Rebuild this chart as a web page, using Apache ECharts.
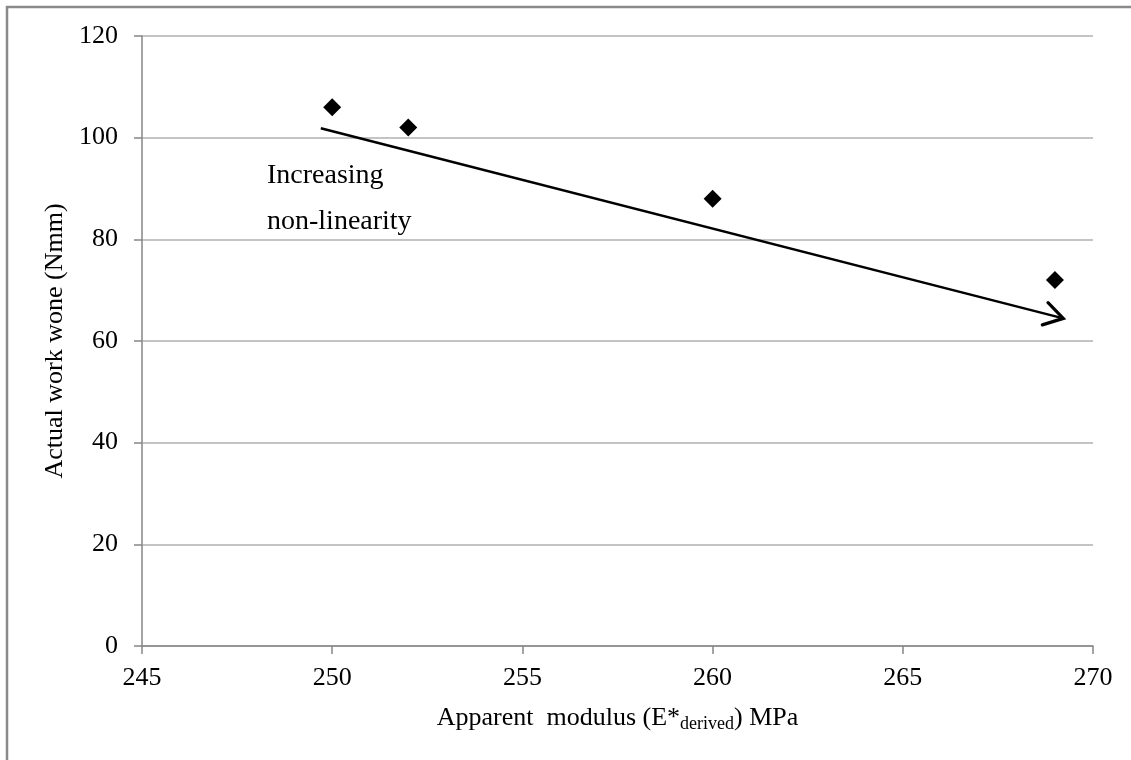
<!DOCTYPE html>
<html>
<head>
<meta charset="utf-8">
<script src="https://cdn.jsdelivr.net/npm/echarts@6/dist/echarts.min.js"></script>
<style>
html,body{margin:0;padding:0;background:#fff;}
#main{width:1131px;height:760px;}
</style>
</head>
<body>
<div id="main"></div>
<script>
// Data
var modulus = [250, 252, 260, 269];
var work = [106, 102, 88, 72];
var arrowStart = [249.7, 101.85];
var arrowEnd = [269.22, 64.45];
var xTicks = [245, 250, 255, 260, 265, 270];
var yTicks = [0, 20, 40, 60, 80, 100, 120];
var annotationLines = ['Increasing', 'non-linearity'];

var FONT = 'Liberation Serif, Times New Roman, serif';
var chart = echarts.init(document.getElementById('main'), null, {renderer: 'canvas'});

var points = modulus.map(function (m, i) { return [m, work[i]]; });

var option = {
  backgroundColor: '#ffffff',
  animation: false,
  grid: {left: 142, right: 38, top: 36, bottom: 114, containLabel: false},
  xAxis: {
    type: 'value',
    min: xTicks[0],
    max: xTicks[xTicks.length - 1],
    interval: xTicks[1] - xTicks[0],
    name: 'Apparent  modulus {t|(E*}{sub|derived}{t|) MPa}',
    nameLocation: 'middle',
    nameGap: 57,
    nameTextStyle: {
      fontFamily: FONT, fontSize: 26, color: '#000',
      rich: {
        t: {fontFamily: FONT, fontSize: 26, color: '#000', lineHeight: 30},
        sub: {fontFamily: FONT, fontSize: 18, color: '#000', lineHeight: 17, verticalAlign: 'bottom'}
      }
    },
    axisLine: {show: true, onZero: false, lineStyle: {color: '#868686', width: 1.5}},
    axisTick: {show: true, inside: false, length: 8, lineStyle: {color: '#868686', width: 1.5}},
    axisLabel: {fontFamily: FONT, fontSize: 26, color: '#000', margin: 19},
    splitLine: {show: false}
  },
  yAxis: {
    type: 'value',
    min: yTicks[0],
    max: yTicks[yTicks.length - 1],
    interval: yTicks[1] - yTicks[0],
    name: 'Actual work wone (Nmm)',
    nameLocation: 'middle',
    nameGap: 69,
    nameTextStyle: {fontFamily: FONT, fontSize: 26, color: '#000'},
    axisLine: {show: true, lineStyle: {color: '#868686', width: 1.5}},
    axisTick: {show: true, inside: false, length: 8, lineStyle: {color: '#868686', width: 1.5}},
    axisLabel: {fontFamily: FONT, fontSize: 26, color: '#000', margin: 24},
    splitLine: {show: true, lineStyle: {color: '#b0b0b0', width: 1.5}}
  },
  series: [
    {
      type: 'custom',
      z: 3,
      silent: true,
      data: [[arrowStart[0], arrowStart[1], arrowEnd[0], arrowEnd[1]]],
      encode: {x: [0, 2], y: [1, 3]},
      renderItem: function (params, api) {
        var p0 = api.coord([api.value(0), api.value(1)]);
        var p1 = api.coord([api.value(2), api.value(3)]);
        var ang = Math.atan2(p1[1] - p0[1], p1[0] - p0[0]);
        var L = 22, spread = 0.55;
        var w1 = [p1[0] - L * Math.cos(ang - spread), p1[1] - L * Math.sin(ang - spread)];
        var w2 = [p1[0] - L * Math.cos(ang + spread), p1[1] - L * Math.sin(ang + spread)];
        return {
          type: 'group',
          children: [
            {type: 'line', shape: {x1: p0[0], y1: p0[1], x2: p1[0], y2: p1[1]},
             style: {stroke: '#000', lineWidth: 2.5}},
            {type: 'polyline', shape: {points: [w1, p1, w2]},
             style: {stroke: '#000', lineWidth: 3.2, fill: null, lineCap: 'round', lineJoin: 'miter'}}
          ]
        };
      }
    },
    {
      type: 'scatter',
      z: 4,
      symbol: 'diamond',
      symbolSize: 18,
      itemStyle: {color: '#000', opacity: 1},
      emphasis: {disabled: true},
      data: points
    }
  ],
  graphic: [
    {type: 'rect', z: -1, silent: true, shape: {x: 7, y: 7, width: 1200, height: 900},
     style: {fill: null, stroke: '#8a8a8a', lineWidth: 2.5}},
    {type: 'text', left: 267, top: 162, silent: true,
     style: {text: annotationLines[0], fontFamily: FONT, fontSize: 28, fill: '#000'}},
    {type: 'text', left: 267, top: 208, silent: true,
     style: {text: annotationLines[1], fontFamily: FONT, fontSize: 28, fill: '#000'}}
  ]
};
chart.setOption(option);
</script>
</body>
</html>
